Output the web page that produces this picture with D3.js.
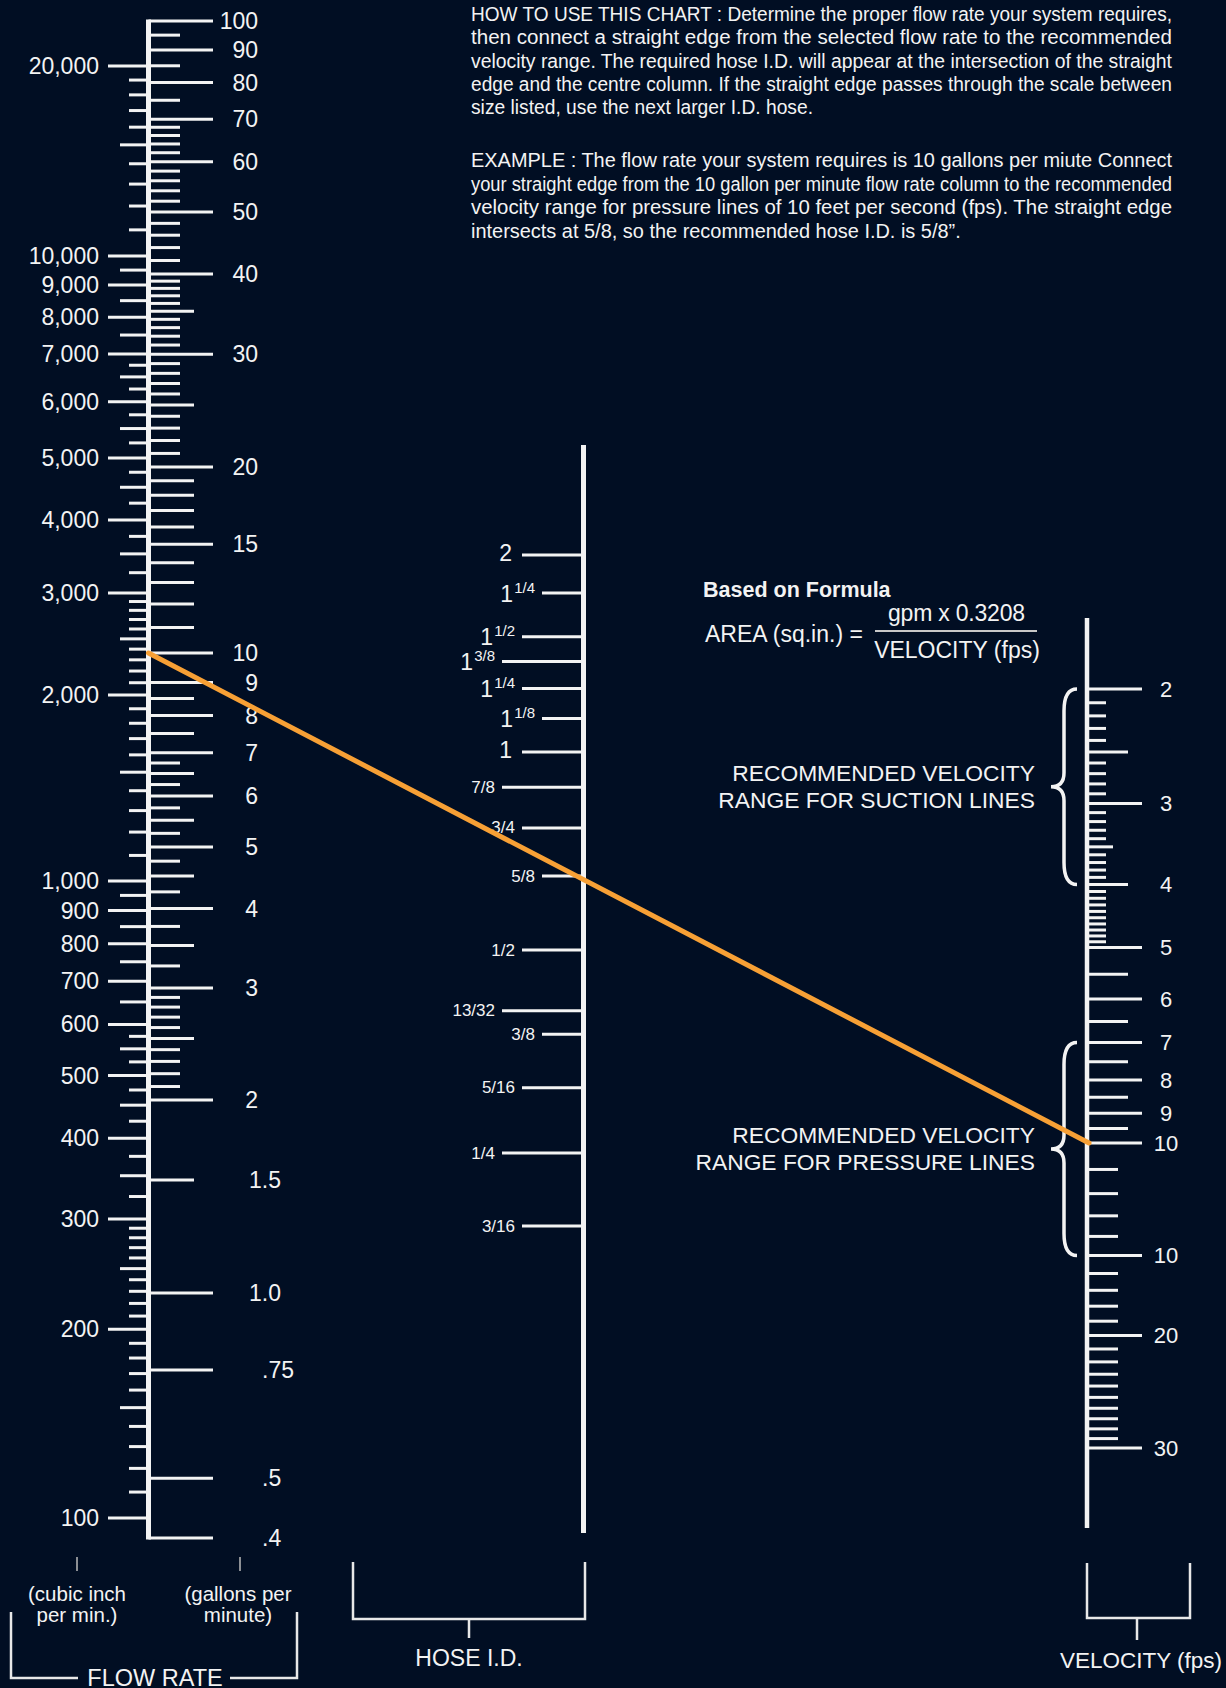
<!DOCTYPE html>
<html>
<head>
<meta charset="utf-8">
<script src="https://cdn.jsdelivr.net/npm/d3@7"></script>
<style>
  html, body { margin: 0; padding: 0; background: #010e23; }
  svg { display: block; font-family: 'Liberation Sans', Arial, Helvetica, sans-serif; }
</style>
</head>
<body>
<div id="chart"></div>
<script>
// ---- flow rate, gallons per minute (right side of left column)
let gpmLabelled = [100, 90, 80, 70, 60, 50, 40, 30, 20, 15, 10, 9, 8, 7, 6, 5, 4, 3, 2, 1.5, 1, 0.75, 0.5, 0.4]
let gpmLabels = ['100', '90', '80', '70', '60', '50', '40', '30', '20', '15', '10', '9', '8', '7', '6', '5', '4', '3', '2', '1.5', '1.0', '.75', '.5', '.4']
let gpmMidTicks = [35, 25, 19, 18, 17, 16, 14, 13, 12, 11, 8.5, 7.5, 6.5, 5.5, 4.5, 3.5, 2.5]
let gpmMinorTicks = [95, 85, 75, 68, 66, 64, 62, 58, 56, 54, 52, 48, 46, 44, 42,
  39, 38, 37, 36, 34, 33, 32, 31, 29, 28, 27, 26, 24, 23, 22, 21,
  6.75, 6.25, 5.75, 5.25, 4.75, 4.25, 3.75, 3.25, 2.9, 2.8, 2.7, 2.6, 2.4, 2.3, 2.2, 2.1]

// ---- flow rate, cubic inch per minute (left side of left column)
let cubicLabelled = [20000, 10000, 9000, 8000, 7000, 6000, 5000, 4000, 3000, 2000, 1000, 900, 800, 700, 600, 500, 400, 300, 200, 100]
let cubicLabels = ['20,000', '10,000', '9,000', '8,000', '7,000', '6,000', '5,000', '4,000', '3,000', '2,000', '1,000', '900', '800', '700', '600', '500', '400', '300', '200', '100']
let cubicMidTicks = [15000, 9500, 8500, 7500, 6500, 5500, 4500, 3500, 2500, 1500, 950, 850, 750, 650, 550, 450, 350, 250, 150]
let cubicMinorTicks = [19000, 18000, 17000, 16000, 14000, 13000, 12000, 11000,
  6750, 6250, 5750, 5250, 4750, 4250, 3750, 3250,
  2900, 2800, 2700, 2600, 2400, 2300, 2200, 2100, 1900, 1800, 1700, 1600, 1400, 1300, 1200, 1100,
  575, 525, 475, 425, 375, 325,
  290, 280, 270, 260, 240, 230, 220, 210, 190, 180, 170, 160, 140, 130, 120, 110]

// ---- hose I.D. (inches)
let hoseValues = [2, 1.75, 1.5, 1.375, 1.25, 1.125, 1, 0.875, 0.75, 0.625, 0.5, 0.40625, 0.375, 0.3125, 0.25, 0.1875]
let hoseWhole = ['2', '1', '1', '1', '1', '1', '1', '', '', '', '', '', '', '', '', '']
let hoseFrac = ['', '1/4', '1/2', '3/8', '1/4', '1/8', '', '7/8', '3/4', '5/8', '1/2', '13/32', '3/8', '5/16', '1/4', '3/16']

// ---- velocity (fps)
let velLabelled = [2, 3, 4, 5, 6, 7, 8, 9, 10, 15, 20, 30]
let velLabels = ['2', '3', '4', '5', '6', '7', '8', '9', '10', '10', '20', '30']
let velMidTicks = [2.5, 4, 5.5, 6.5, 7.5, 8.5, 9.5]
let velHalfTicks = [3.5]
let velUpperTicks = [11, 12, 13, 14, 16, 17, 18, 19, 21, 22, 23, 24, 25, 26, 27, 28, 29]
let velMinorTicks = [2.1, 2.2, 2.3, 2.4, 2.6, 2.7, 2.8, 2.9, 3.1, 3.2, 3.3, 3.4, 3.6, 3.7, 3.8, 3.9,
  4.1, 4.2, 4.3, 4.4, 4.5, 4.6, 4.7, 4.8, 4.9]
let suctionRange = [2, 4]
let pressureRange = [7, 15]

// ---- worked example
let exampleFlow = 10
let exampleVelocity = 10

let howToLines = [
  'HOW TO USE THIS CHART : Determine the proper flow rate your system requires,',
  'then connect a straight edge from the selected flow rate to the recommended',
  'velocity range. The required hose I.D. will appear at the intersection of the straight',
  'edge and the centre column. If the straight edge passes through the scale between',
  'size listed, use the next larger I.D. hose.'
]
let exampleLines = [
  'EXAMPLE : The flow rate your system requires is 10 gallons per miute Connect',
  'your straight edge from the 10 gallon per minute flow rate column to the recommended',
  'velocity range for pressure lines of 10 feet per second (fps). The straight edge',
  'intersects at 5/8, so the recommended hose I.D. is 5/8\u201d.'
]

// ---- layout / style
let width = 1226
let height = 1688
let white = '#f3f3f3'
let orange = '#f7a035'
let flowX = 148.5
let hoseX = 583.5
let velX = 1087
// stagger of the hose tick starts (0 = long, 1 = mid, 2 = short)
let hoseStagger = [1, 2, 1, 0, 1, 2, 1, 0, 1, 2, 1, 0, 2, 1, 0, 1]
let hoseStart = [502, 522, 542]

// the printed scales are hand-drawn logs, so they are calibrated piecewise
let gpmY = d3.scaleLog()
  .domain([0.4, 1, 2, 5, 10, 20, 50, 100])
  .range([1538, 1293, 1100, 847, 653, 467, 212, 21])
let cubicY = d3.scaleLog()
  .domain([100, 300, 1000, 2000, 3000, 4000, 5000, 7000, 10000, 20000])
  .range([1518, 1219, 881, 695, 593, 520, 458, 354, 256, 66])
let hoseY = d3.scaleLog()
  .domain([0.1875, 0.25, 0.5, 0.625, 1, 2])
  .range([1226, 1153, 950, 876, 752, 555])
let velY = d3.scaleLog().domain([2, 10, 30]).range([689, 1143, 1448])

let svg = d3.select('#chart')
  .append('svg')
  .attr('width', width)
  .attr('height', height)

svg.append('rect')
  .attr('width', width)
  .attr('height', height)
  .attr('fill', '#010e23')

function drawTicks(holder, values, scale, x1, x2) {
  holder.selectAll(null)
    .data(values)
    .enter()
    .append('line')
    .attr('x1', x1)
    .attr('x2', x2)
    .attr('y1', d => scale(d))
    .attr('y2', d => scale(d))
    .attr('stroke', white)
    .attr('stroke-width', 3)
}

// ================= FLOW RATE column
let flow = svg.append('g')

drawTicks(flow, cubicLabelled, cubicY, 108, flowX)
drawTicks(flow, cubicMidTicks, cubicY, 120, flowX)
drawTicks(flow, cubicMinorTicks, cubicY, 129, flowX)

drawTicks(flow, gpmLabelled.filter(d => d !== 1.5), gpmY, flowX, 213)
drawTicks(flow, gpmMidTicks.concat([1.5]), gpmY, flowX, 194)
drawTicks(flow, gpmMinorTicks, gpmY, flowX, 180)

flow.append('line')
  .attr('x1', flowX)
  .attr('x2', flowX)
  .attr('y1', gpmY(100) - 1.5)
  .attr('y2', gpmY(0.4) + 1.5)
  .attr('stroke', white)
  .attr('stroke-width', 5)

flow.selectAll('.cubic-label')
  .data(cubicLabelled)
  .enter()
  .append('text')
  .attr('x', 99)
  .attr('y', d => cubicY(d))
  .attr('dy', '0.35em')
  .attr('text-anchor', 'end')
  .attr('font-size', 23)
  .attr('fill', white)
  .text((d, i) => cubicLabels[i])

flow.selectAll('.gpm-label')
  .data(gpmLabelled)
  .enter()
  .append('text')
  .attr('x', d => (d >= 2 ? 258 : d >= 1 ? 249 : 262))
  .attr('y', d => gpmY(d))
  .attr('dy', '0.35em')
  .attr('text-anchor', d => (d >= 2 ? 'end' : 'start'))
  .attr('font-size', 23)
  .attr('fill', white)
  .text((d, i) => gpmLabels[i])

// ================= HOSE I.D. column
let hose = svg.append('g')

hose.append('line')
  .attr('x1', hoseX)
  .attr('x2', hoseX)
  .attr('y1', 445)
  .attr('y2', 1533)
  .attr('stroke', white)
  .attr('stroke-width', 5)

hose.selectAll('.hose-tick')
  .data(hoseValues)
  .enter()
  .append('line')
  .attr('x1', (d, i) => hoseStart[hoseStagger[i]])
  .attr('x2', hoseX)
  .attr('y1', d => hoseY(d))
  .attr('y2', d => hoseY(d))
  .attr('stroke', white)
  .attr('stroke-width', 3)

hose.selectAll('.hose-label')
  .data(hoseValues)
  .enter()
  .append('text')
  .attr('x', (d, i) => hoseStart[hoseStagger[i]] - (hoseFrac[i] ? 7 : 10))
  .attr('y', (d, i) => hoseY(d) + (hoseWhole[i] && hoseFrac[i] ? 3 : 0))
  .attr('dy', '0.35em')
  .attr('text-anchor', 'end')
  .attr('fill', white)
  .each(function(d, i) {
    let t = d3.select(this)
    if (hoseWhole[i]) {
      t.append('tspan').attr('font-size', 23).text(hoseWhole[i])
      if (hoseFrac[i]) {
        t.append('tspan').attr('font-size', 15).attr('dx', 1).attr('dy', -9).text(hoseFrac[i])
      }
    } else {
      t.append('tspan').attr('font-size', 17).text(hoseFrac[i])
    }
  })

// ================= VELOCITY column
let vel = svg.append('g')

drawTicks(vel, velLabelled.filter(d => d !== 4), velY, velX, 1142)
drawTicks(vel, velMidTicks, velY, velX, 1128)
drawTicks(vel, velHalfTicks, velY, velX, 1113)
drawTicks(vel, velUpperTicks, velY, velX, 1118)
drawTicks(vel, velMinorTicks, velY, velX, 1106)

vel.append('line')
  .attr('x1', velX)
  .attr('x2', velX)
  .attr('y1', 618)
  .attr('y2', 1528)
  .attr('stroke', white)
  .attr('stroke-width', 4.5)

vel.selectAll('.vel-label')
  .data(velLabelled)
  .enter()
  .append('text')
  .attr('x', 1166)
  .attr('y', d => velY(d))
  .attr('dy', '0.35em')
  .attr('text-anchor', 'middle')
  .attr('font-size', 22)
  .attr('fill', white)
  .text((d, i) => velLabels[i])

function brace(y1, y2) {
  let xr = 1077
  let xm = 1064
  let xt = 1051
  let ym = (y1 + y2) / 2
  return `M${xr},${y1} Q${xm},${y1} ${xm},${y1 + 22} L${xm},${ym - 14} Q${xm},${ym} ${xt},${ym}` +
    ` Q${xm},${ym} ${xm},${ym + 14} L${xm},${y2 - 22} Q${xm},${y2} ${xr},${y2}`
}

let ranges = [
  { range: suctionRange, lines: ['RECOMMENDED VELOCITY', 'RANGE FOR SUCTION LINES'] },
  { range: pressureRange, lines: ['RECOMMENDED VELOCITY', 'RANGE FOR PRESSURE LINES'] }
]

ranges.forEach(r => {
  let y1 = velY(r.range[0])
  let y2 = velY(r.range[1])
  vel.append('path')
    .attr('d', brace(y1, y2))
    .attr('fill', 'none')
    .attr('stroke', white)
    .attr('stroke-width', 3.5)
  let mid = (y1 + y2) / 2
  vel.selectAll(null)
    .data(r.lines)
    .enter()
    .append('text')
    .attr('x', 1035)
    .attr('y', (d, i) => mid - 14 + i * 27)
    .attr('dy', '0.35em')
    .attr('text-anchor', 'end')
    .attr('font-size', 22.8)
    .attr('fill', white)
    .text(d => d)
})

// ================= formula
let formula = svg.append('g').attr('fill', white)
formula.append('text')
  .attr('x', 703).attr('y', 589).attr('dy', '0.35em')
  .attr('font-size', 21.5).attr('font-weight', 'bold')
  .text('Based on Formula')
formula.append('text')
  .attr('x', 705).attr('y', 634).attr('dy', '0.35em')
  .attr('font-size', 23)
  .text('AREA (sq.in.) =')
formula.append('text')
  .attr('x', 888).attr('y', 613).attr('dy', '0.35em')
  .attr('font-size', 23)
  .attr('textLength', 137).attr('lengthAdjust', 'spacing')
  .text('gpm x 0.3208')
formula.append('line')
  .attr('x1', 875).attr('x2', 1037).attr('y1', 631).attr('y2', 631)
  .attr('stroke', '#c8c8c8').attr('stroke-width', 2)
formula.append('text')
  .attr('x', 957).attr('y', 650).attr('dy', '0.35em')
  .attr('font-size', 23).attr('text-anchor', 'middle')
  .text('VELOCITY (fps)')

// ================= instructions, justified (condensed face imitated by fitting)
let textLeft = 471
let textWidth = 701
let para = svg.append('g')
  .attr('fill', white)
  .attr('font-size', 20)

function writeParagraph(lines, baseY) {
  let nodes = lines.map((line, i) =>
    para.append('text')
      .attr('x', textLeft)
      .attr('y', baseY + i * 23.4)
      .text(line)
  )
  let ratios = []
  nodes.forEach((n, i) => {
    if (i === lines.length - 1) return
    let w = n.node().getComputedTextLength()
    ratios.push(textWidth / w)
    n.attr('textLength', textWidth).attr('lengthAdjust', 'spacingAndGlyphs')
  })
  let last = nodes[nodes.length - 1]
  let r = Math.min(1, d3.median(ratios))
  last.attr('textLength', last.node().getComputedTextLength() * r).attr('lengthAdjust', 'spacingAndGlyphs')
}
writeParagraph(howToLines, 20.7)
writeParagraph(exampleLines, 167.3)

// ================= example straight edge
svg.append('line')
  .attr('x1', flowX)
  .attr('y1', gpmY(exampleFlow))
  .attr('x2', velX + 2)
  .attr('y2', velY(exampleVelocity))
  .attr('stroke', orange)
  .attr('stroke-width', 5)
  .attr('stroke-linecap', 'round')

// ================= bottom captions
let foot = svg.append('g')
  .attr('fill', 'none')
  .attr('stroke', '#e8e8e8')
  .attr('stroke-width', 2.5)

foot.append('path').attr('d', 'M11,1612 V1678 H78 M230,1678 H297 V1612')
foot.append('path').attr('d', 'M353,1562 V1619 H585 V1562 M469,1619 V1638')
foot.append('path').attr('d', 'M1087,1563 V1618 H1190 V1563 M1137,1618 V1640')
foot.append('path').attr('d', 'M77,1557 V1571 M240,1557 V1571')
  .attr('stroke', '#bbbbbb').attr('stroke-width', 1.5)

let captions = svg.append('g').attr('fill', white).attr('text-anchor', 'middle')
captions.append('text').attr('x', 155).attr('y', 1678).attr('dy', '0.35em').attr('font-size', 23.5).text('FLOW RATE')
captions.append('text').attr('x', 469).attr('y', 1658).attr('dy', '0.35em').attr('font-size', 23).text('HOSE I.D.')
captions.append('text').attr('x', 1141).attr('y', 1660).attr('dy', '0.35em').attr('font-size', 22.5).text('VELOCITY (fps)')
captions.append('text').attr('x', 77).attr('y', 1594).attr('dy', '0.35em').attr('font-size', 20.5).text('(cubic inch')
captions.append('text').attr('x', 77).attr('y', 1615).attr('dy', '0.35em').attr('font-size', 20.5).text('per min.)')
captions.append('text').attr('x', 238).attr('y', 1594).attr('dy', '0.35em').attr('font-size', 20.5).text('(gallons per')
captions.append('text').attr('x', 238).attr('y', 1615).attr('dy', '0.35em').attr('font-size', 20.5).text('minute)')
</script>
</body>
</html>
